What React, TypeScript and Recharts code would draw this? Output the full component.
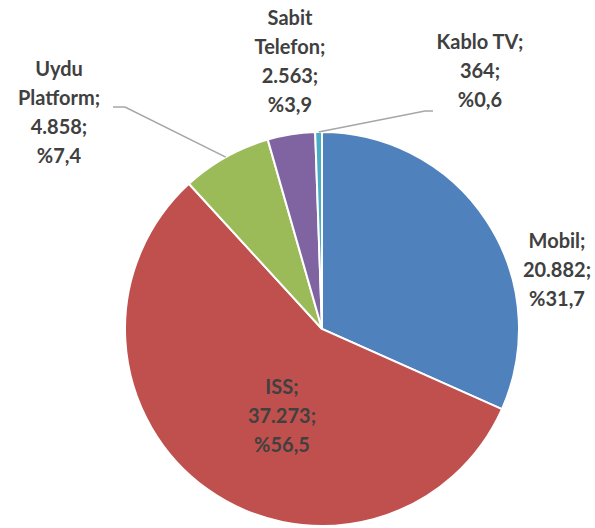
import React from "react";
import { PieChart, Pie, Cell } from "recharts";

const categories = ["Mobil", "ISS", "Uydu Platform", "Sabit Telefon", "Kablo TV"];
const values = [20882, 37273, 4858, 2563, 364];
const valueLabels = ["20.882", "37.273", "4.858", "2.563", "364"];
const percentLabels = ["%31,7", "%56,5", "%7,4", "%3,9", "%0,6"];
const colors = ["#4F81BD", "#C0504D", "#9BBB59", "#8064A2", "#4BACC6"];

// label text lines (category name may wrap)
const nameLines = [["Mobil;"], ["ISS;"], ["Uydu", "Platform;"], ["Sabit", "Telefon;"], ["Kablo TV;"]];

// label placement relative to pie centre (first line centre)
const labelOffsets = [
  [235, -89],
  [-40, 57],
  [-263, -261],
  [-32, -312],
  [158, -288],
];
// leader lines: elbow and end, relative to centre (null = none)
const leaders: (number[][] | null)[] = [
  null,
  null,
  [[-197, -222], [-209, -222]],
  null,
  [[103, -218], [111, -218]],
];

const data = categories.map((name, i) => ({ name, value: values[i] }));

// chart has a 5px default margin, so these are offset by it
const CX = 317;
const CY = 324;
const R = 197;
const LINE_H = 29;

const RADIAN = Math.PI / 180;

function renderLabel(props: any) {
  const { cx, cy, midAngle, outerRadius, index } = props;
  const [ox, oy] = labelOffsets[index];
  const lines = [...nameLines[index], valueLabels[index] + ";", percentLabels[index]];
  const lead = leaders[index];
  let path = null;
  if (lead) {
    const sx = cx + outerRadius * Math.cos(-midAngle * RADIAN);
    const sy = cy + outerRadius * Math.sin(-midAngle * RADIAN);
    path = (
      <polyline
        points={`${sx},${sy} ${cx + lead[0][0]},${cy + lead[0][1]} ${cx + lead[1][0]},${cy + lead[1][1]}`}
        fill="none"
        stroke="#A6A6A6"
        strokeWidth={1.5}
      />
    );
  }
  return (
    <g key={`lbl-${index}`}>
      {path}
      {lines.map((t, j) => (
        <text
          key={j}
          x={cx + ox}
          y={cy + oy + j * LINE_H}
          textAnchor="middle"
          dominantBaseline="central"
          fill="#404040"
          fontFamily="Lato, 'Open Sans', sans-serif"
          fontWeight="bold"
          fontSize={20}
        >
          {t}
        </text>
      ))}
    </g>
  );
}

export default function App() {
  return (
    <div style={{ position: "absolute", left: 0, top: 0, background: "#fff" }}>
      <PieChart width={595} height={528}>
        <Pie
          data={data}
          dataKey="value"
          nameKey="name"
          cx={CX}
          cy={CY}
          outerRadius={R}
          startAngle={90}
          endAngle={-270}
          stroke="#ffffff"
          strokeWidth={2}
          label={renderLabel}
          labelLine={false}
          isAnimationActive={false}
        >
          {data.map((d, i) => (
            <Cell key={d.name} fill={colors[i]} />
          ))}
        </Pie>
      </PieChart>
    </div>
  );
}
